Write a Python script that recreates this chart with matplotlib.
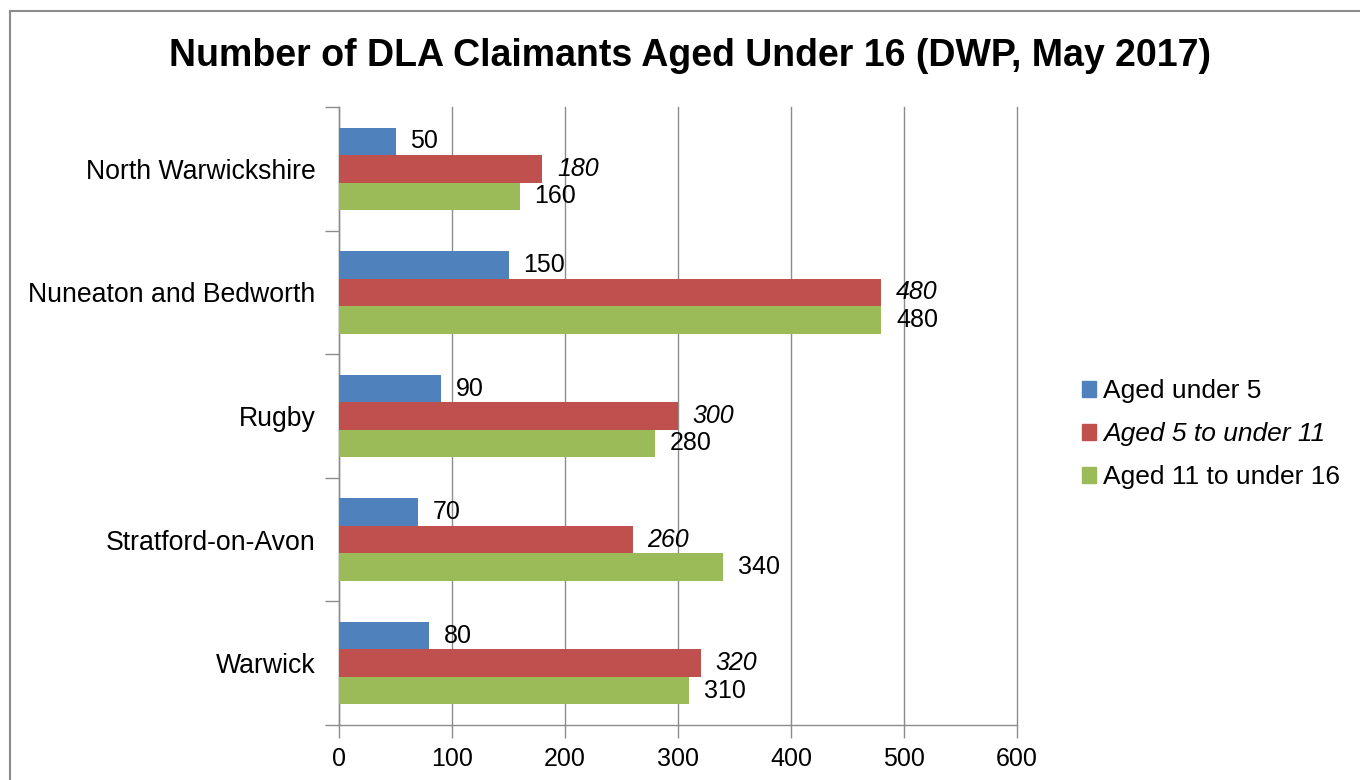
import matplotlib
matplotlib.use("Agg")
import matplotlib.pyplot as plt
import numpy as np
from matplotlib.patches import Rectangle
from matplotlib.lines import Line2D

plt.rcParams['font.family'] = ['Liberation Sans', 'DejaVu Sans']

categories = ["North Warwickshire", "Nuneaton and Bedworth", "Rugby", "Stratford-on-Avon", "Warwick"]
under5 = [50, 150, 90, 70, 80]
age5_11 = [180, 480, 300, 260, 320]
age11_16 = [160, 480, 280, 340, 310]
series_names = ["Aged under 5", "Aged 5 to under 11", "Aged 11 to under 16"]
colors = ["#4F81BD", "#C0504D", "#9BBB59"]
xticks = [0, 100, 200, 300, 400, 500, 600]

fig = plt.figure(figsize=(13.6, 7.8), dpi=100)
W, H = 1360, 780
ax = fig.add_axes([339 / W, 1 - 725 / H, (1017 - 339) / W, (725 - 107) / H])

# frame around chart
fig.add_artist(Line2D([10 / W, 10 / W], [0, 1 - 11 / H], color="#8c8c8c", lw=1.5, transform=fig.transFigure))
fig.add_artist(Line2D([10 / W, 1], [1 - 11 / H, 1 - 11 / H], color="#8c8c8c", lw=1.5, transform=fig.transFigure))

n = len(categories)
y = np.arange(n)
bh = 0.222
data = [under5, age5_11, age11_16]
offsets = [-bh, 0, bh]
for vals, off, c, name in zip(data, offsets, colors, series_names):
    bars = ax.barh(y + off, vals, height=bh, color=c, label=name, zorder=3)
    italic = name == "Aged 5 to under 11"
    for b, v in zip(bars, vals):
        ax.text(v + 13, b.get_y() + b.get_height() / 2, str(v), va="center", ha="left",
                fontsize=18, style="italic" if italic else "normal", zorder=4)

ax.set_ylim(n - 0.5, -0.5)
ax.set_xlim(0, 600)
ax.set_xticks(xticks)
ax.set_xticklabels([str(t) for t in xticks], fontsize=18)
ax.set_yticks(y)
ax.set_yticklabels(categories, fontsize=19.2)
ax.set_yticks(np.arange(n + 1) - 0.5, minor=True)
ax.tick_params(axis="y", which="major", length=0, pad=17)
ax.tick_params(axis="y", which="minor", length=10, color="#8c8c8c", width=1)
ax.tick_params(axis="x", length=9, color="#8c8c8c", width=1, pad=7)
ax.grid(axis="x", color="#8c8c8c", lw=1, zorder=0)
for gl in ax.get_xgridlines():
    gl.set_clip_on(False)
for s in ["top", "right"]:
    ax.spines[s].set_visible(False)
for s in ["left", "bottom"]:
    ax.spines[s].set_color("#8c8c8c")
    ax.spines[s].set_linewidth(1)

fig.text(690 / W, 1 - 56 / H, "Number of DLA Claimants Aged Under 16 (DWP, May 2017)",
         ha="center", va="center", fontsize=27, fontweight="bold")

handles = [Rectangle((0, 0), 1, 1, color=c) for c in colors]
leg = fig.legend(handles, series_names, loc="center left", bbox_to_anchor=(1058 / W, 1 - 434 / H),
                 frameon=False, fontsize=19, handlelength=0.55, handleheight=0.55, handletextpad=0.25,
                 labelspacing=0.72)
leg.get_texts()[1].set_style("italic")

fig.savefig("out.png", dpi=100)
